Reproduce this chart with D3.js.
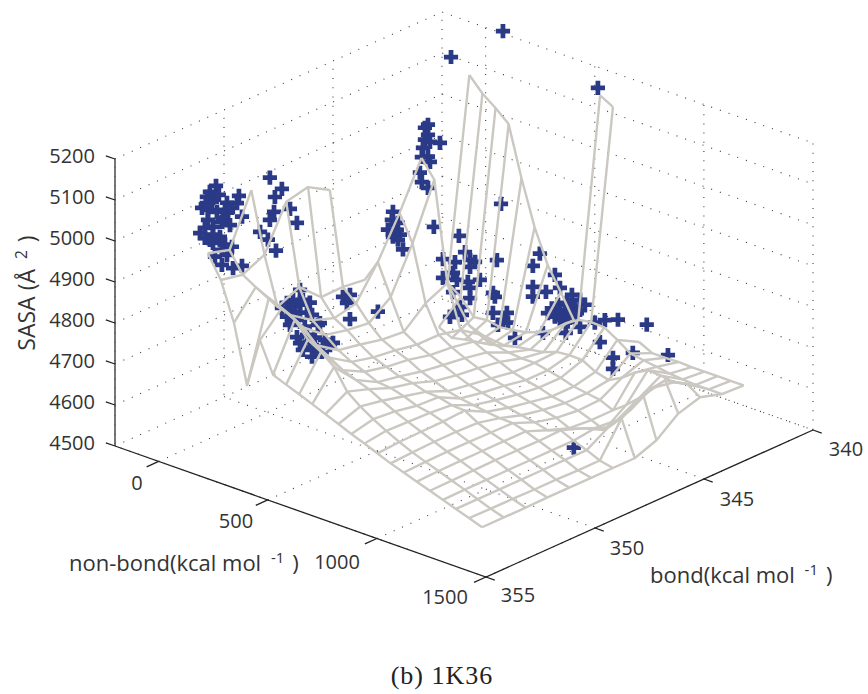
<!DOCTYPE html>
<html><head><meta charset="utf-8">
<script src="https://cdnjs.cloudflare.com/ajax/libs/d3/7.8.5/d3.min.js"></script>
<style>html,body{margin:0;padding:0;background:#fff}svg{display:block}</style>
</head><body><svg id="c" width="868" height="694"></svg>
<script>
const nonBondTicks=[0,500,1000,1500];
const bondTicks=[340,345,350,355];
const sasaTicks=[4500,4600,4700,4800,4900,5000,5100,5200];
const nonBondGrid=[225,285,345,405,464,524,584,644,704,764,824,883,943,1003,1063,1123,1183,1243,1302,1362,1422,1482];
const bondGrid=[355,354,353,352,351,350,349,348,347,346,345,344,343];
const _=null;
const sasaSurface=[
[5050,5034,5156,_,_,_,_,_,_,_,_,4715,5198],
[4996,4985,5010,5115,5127,5096,_,_,_,_,4642,4692,5164],
[4903,4966,4894,4918,4870,4871,4864,_,_,_,4627,4654,5140],
[4762,4951,4885,4849,4830,4842,4919,5015,5125,_,4634,4658,5112],
[4883,4937,4866,4824,4812,4805,4845,4952,5083,_,4639,4652,4991],
[4810,4920,4834,4798,4788,4776,4771,4817,4842,4715,4644,4656,4883],
[4797,4883,4815,4781,4768,4761,4751,4751,4739,4703,4654,4662,4802],
[4785,4864,4796,4768,4756,4749,4737,4732,4722,4690,4661,4673,4747],
[4772,4839,4783,4754,4744,4732,4724,4717,4707,4683,4666,4690,4690],
[4759,4790,4772,4751,4739,4720,4710,4704,4695,4680,4671,4717,_],
[4746,4765,4755,4742,4729,4707,4698,4690,4681,4680,4683,4737,5261],
[4733,4745,4740,4730,4727,4700,4690,4683,4673,4673,4686,4743,5244],
[4721,4728,4726,4724,4719,4695,4683,4673,4666,4666,4685,4741,_],
[4708,4712,4713,4714,4717,4690,4676,4666,4656,4656,4668,4722,4693],
[4695,4698,4700,4700,4698,4686,4669,4658,4651,4651,4659,4700,4677],
[4684,4686,4687,4687,4686,4685,4663,4650,4644,4646,4676,4695,4677],
[4673,4675,4676,4676,4676,4676,4655,4636,4632,4632,4700,4690,4678],
[4662,4663,4664,4665,4665,4664,4666,4647,4619,4656,4717,4685,4677],
[4651,4652,4652,4652,4652,4652,4652,4659,4654,4684,4715,4682,4677],
[4640,4640,4640,4640,4640,4640,4640,4672,4690,4720,4710,4680,4677],
[4629,4628,4628,4627,4627,4626,4626,4705,4737,4750,4717,4680,4677],
[4618,4618,4618,4619,4619,4619,4619,4619,4639,4680,4696,4680,4677]
];
const scatterBond=[354,352,353,352,351,346,344,343,349];
const scatterNonBond=[
[163,135,121,149,144,268,213,259,99,126,204,236,282,195,126,190,149,90,112,181,149,204,236,158,213,190,241,282,181,135,176,116,227,167,218,149,112,190],
[165,201,210,210,229,233,238,265,302,334],
[448,416,388,461,493,365,402,480,388,434,530,470,402,434,480,553,461,507,585,503,539,599,525,425,448,448,416,503,562,516,548,493,448],
[545,577,563,577,705],
[674,669,697,651,692,706,674,697,720],
[321,335,335,321,344,390,312,335,307,344,298,307,335,362],
[277,204,305,259,328,351,328,451,250,204,268,318,373,250,328,328,282,259,236,291],
[141,379,814,370,333,342,333,397,379,356,402,434,562,548,516,516,516,576,603,631,663,640,695,732,754,709,718,686,617,654,672,640,617,640,667,732,800,846,906,1038,823,974,1135,883,883,686,700,626,585,676,732],
[1303]
];
const scatterSasa=[
[5179,5159,5144,5147,5136,5174,5147,5155,5113,5113,5128,5139,5126,5107,5089,5096,5076,5050,5067,5058,5037,5043,5044,5005,5020,4991,4993,5006,5050,5042,5159,5124,5095,5116,5126,5057,5042,5028],
[5019,5007,5160,5057,5080,5117,4987,5143,5101,5073],
[4955,4924,4912,4933,4932,4895,4897,4905,4878,4879,4885,4869,4861,4837,4851,4836,4811,4825,4846,4802,4891,4854,4823,4911,4923,4899,4893,4904,4854,4851,4822,4836,4825],
[4932,4943,4921,4884,4926],
[5140,5119,5117,5092,5099,5090,5079,5076,5057],
[5159,5169,5144,5130,5129,5135,5108,5091,5085,5080,5045,5024,5015,4925],
[4839,4769,4805,4772,4790,4790,4773,4813,4744,4723,4730,4735,4750,4697,4722,4697,4667,4650,4634,4649],
[5226,5334,5277,4911,4687,4679,4638,4650,4629,4613,4627,4596,4632,4823,4787,4736,4712,4735,4700,4714,4703,4679,4750,4745,4737,4723,4710,4692,4682,4693,4726,4698,4784,4757,4652,4679,4702,4717,4729,4742,4659,4661,4686,4632,4605,4724,4709,4695,4685,4681,4720],
[4635]
];
const meshColor="#cbc8c2", markColor="#2b3a87", inkColor="#333";

const svg=d3.select("#c");
const ox=115, oy=446;
const nbX=d3.scaleLinear().domain([-200,1500]).range([0,371]);
const nbY=d3.scaleLinear().domain([-200,1500]).range([0,131]);
const bX=d3.scaleLinear().domain([355,340]).range([0,327]);
const bY=d3.scaleLinear().domain([355,340]).range([0,-147]);
const zY=d3.scaleLinear().domain([4500,5200]).range([0,-287]);
const px=(n,b)=>ox+nbX(n)+bX(b);
const py=(n,b,z)=>oy+nbY(n)+bY(b)+zY(z);
const line=d3.line().defined(d=>d[2]!==null).x(d=>px(d[0],d[1])).y(d=>py(d[0],d[1],d[2]));

// dotted walls and floor
const dots=svg.append("g").attr("fill","none").attr("stroke","#3a3a3a").attr("stroke-width",1.1).attr("stroke-dasharray","1 8.2");
const dl=pts=>dots.append("path").attr("d",line(pts));
const nbMin=-200,nbMax=1500,bMin=340,bMax=355,zMin=4500,zMax=5200;
nonBondTicks.forEach(n=>{dl([[n,bMax,zMin],[n,bMin,zMin],[n,bMin,zMax]]);});
bondTicks.forEach(b=>{dl([[nbMax,b,zMin],[nbMin,b,zMin],[nbMin,b,zMax]]);});
sasaTicks.forEach(z=>{dl([[nbMin,bMax,z],[nbMin,bMin,z],[nbMax,bMin,z]]);});

// axes
const ax=svg.append("g").attr("fill","none").attr("stroke","#222").attr("stroke-width",1.3);
const al=pts=>ax.append("path").attr("d",line(pts));
al([[nbMin,bMax,zMin],[nbMax,bMax,zMin],[nbMax,bMin,zMin]]);
ax.append("path").attr("d",line([[nbMin,bMax,zMin],[nbMin,bMax,zMax]])).attr("stroke","#555").attr("stroke-width",1.6);
nonBondTicks.forEach(n=>al([[n,bMax,zMin],[n,bMax+0.55,zMin]]));
bondTicks.forEach(b=>al([[nbMax,b,zMin],[nbMax+40,b,zMin]]));
sasaTicks.forEach(z=>al([[nbMin,bMax,z],[nbMin-42,bMax,z]]));

// scatter
const plus=d3.symbol().type(d3.symbolCross).size(112);
const gp=svg.append("g").attr("fill",markColor);
scatterBond.forEach((b,c)=>{
  scatterNonBond[c].forEach((n,i)=>{
    gp.append("path").attr("d",plus()).attr("transform",`translate(${px(n,b)},${py(n,b,scatterSasa[c][i])})`);
  });
});

// mesh
const gm=svg.append("g").attr("fill","none").attr("stroke",meshColor).attr("stroke-width",2.4).attr("stroke-linejoin","round");
const ml=pts=>gm.append("path").attr("d",line(pts));
sasaSurface.forEach((row,i)=>ml(row.map((z,k)=>[nonBondGrid[i],bondGrid[k],z])));
bondGrid.forEach((b,k)=>ml(sasaSurface.map((row,i)=>[nonBondGrid[i],b,row[k]])));

// text
const sans="'Open Sans',sans-serif";
const T=(x,y,s,anchor="middle",size=20)=>svg.append("text").attr("x",x).attr("y",y).attr("text-anchor",anchor).attr("font-family",sans).attr("font-size",size).attr("fill",inkColor).text(s);
sasaTicks.forEach(z=>T(95,oy+zY(z)+4,z,"end"));
const nbLabelPos=[[137,490],[236,528],[337,569],[445,604]];
nonBondTicks.forEach((n,i)=>T(nbLabelPos[i][0],nbLabelPos[i][1],n));
const bLabelPos=[[518,602],[627,555],[737,506],[846,456]];
bondTicks.slice().reverse().forEach((b,i)=>T(bLabelPos[i][0],bLabelPos[i][1],b));
function sup(x,y,a,s,b,anchor,size,rot){
  const t=svg.append("text").attr("x",x).attr("y",y).attr("text-anchor",anchor).attr("font-family",sans).attr("font-size",size).attr("fill",inkColor);
  if(rot)t.attr("transform",`rotate(-90 ${x} ${y})`);
  t.append("tspan").text(a);
  t.append("tspan").attr("dy",-8).attr("dx",4).attr("font-size",size*0.68).text(s);
  t.append("tspan").attr("dy",8).attr("dx",8).text(b);
}
sup(69,571,"non-bond(kcal mol ","-1",")","start",22);
sup(650,583,"bond(kcal mol ","-1",")","start",22);
sup(35,293,"SASA (Å ","2",")","middle",23,true);
svg.append("text").attr("x",442).attr("y",684).attr("text-anchor","middle").attr("font-family","'Liberation Serif',serif").attr("font-size",26).attr("letter-spacing",1).attr("fill","#222").text("(b) 1K36");
</script></body></html>
